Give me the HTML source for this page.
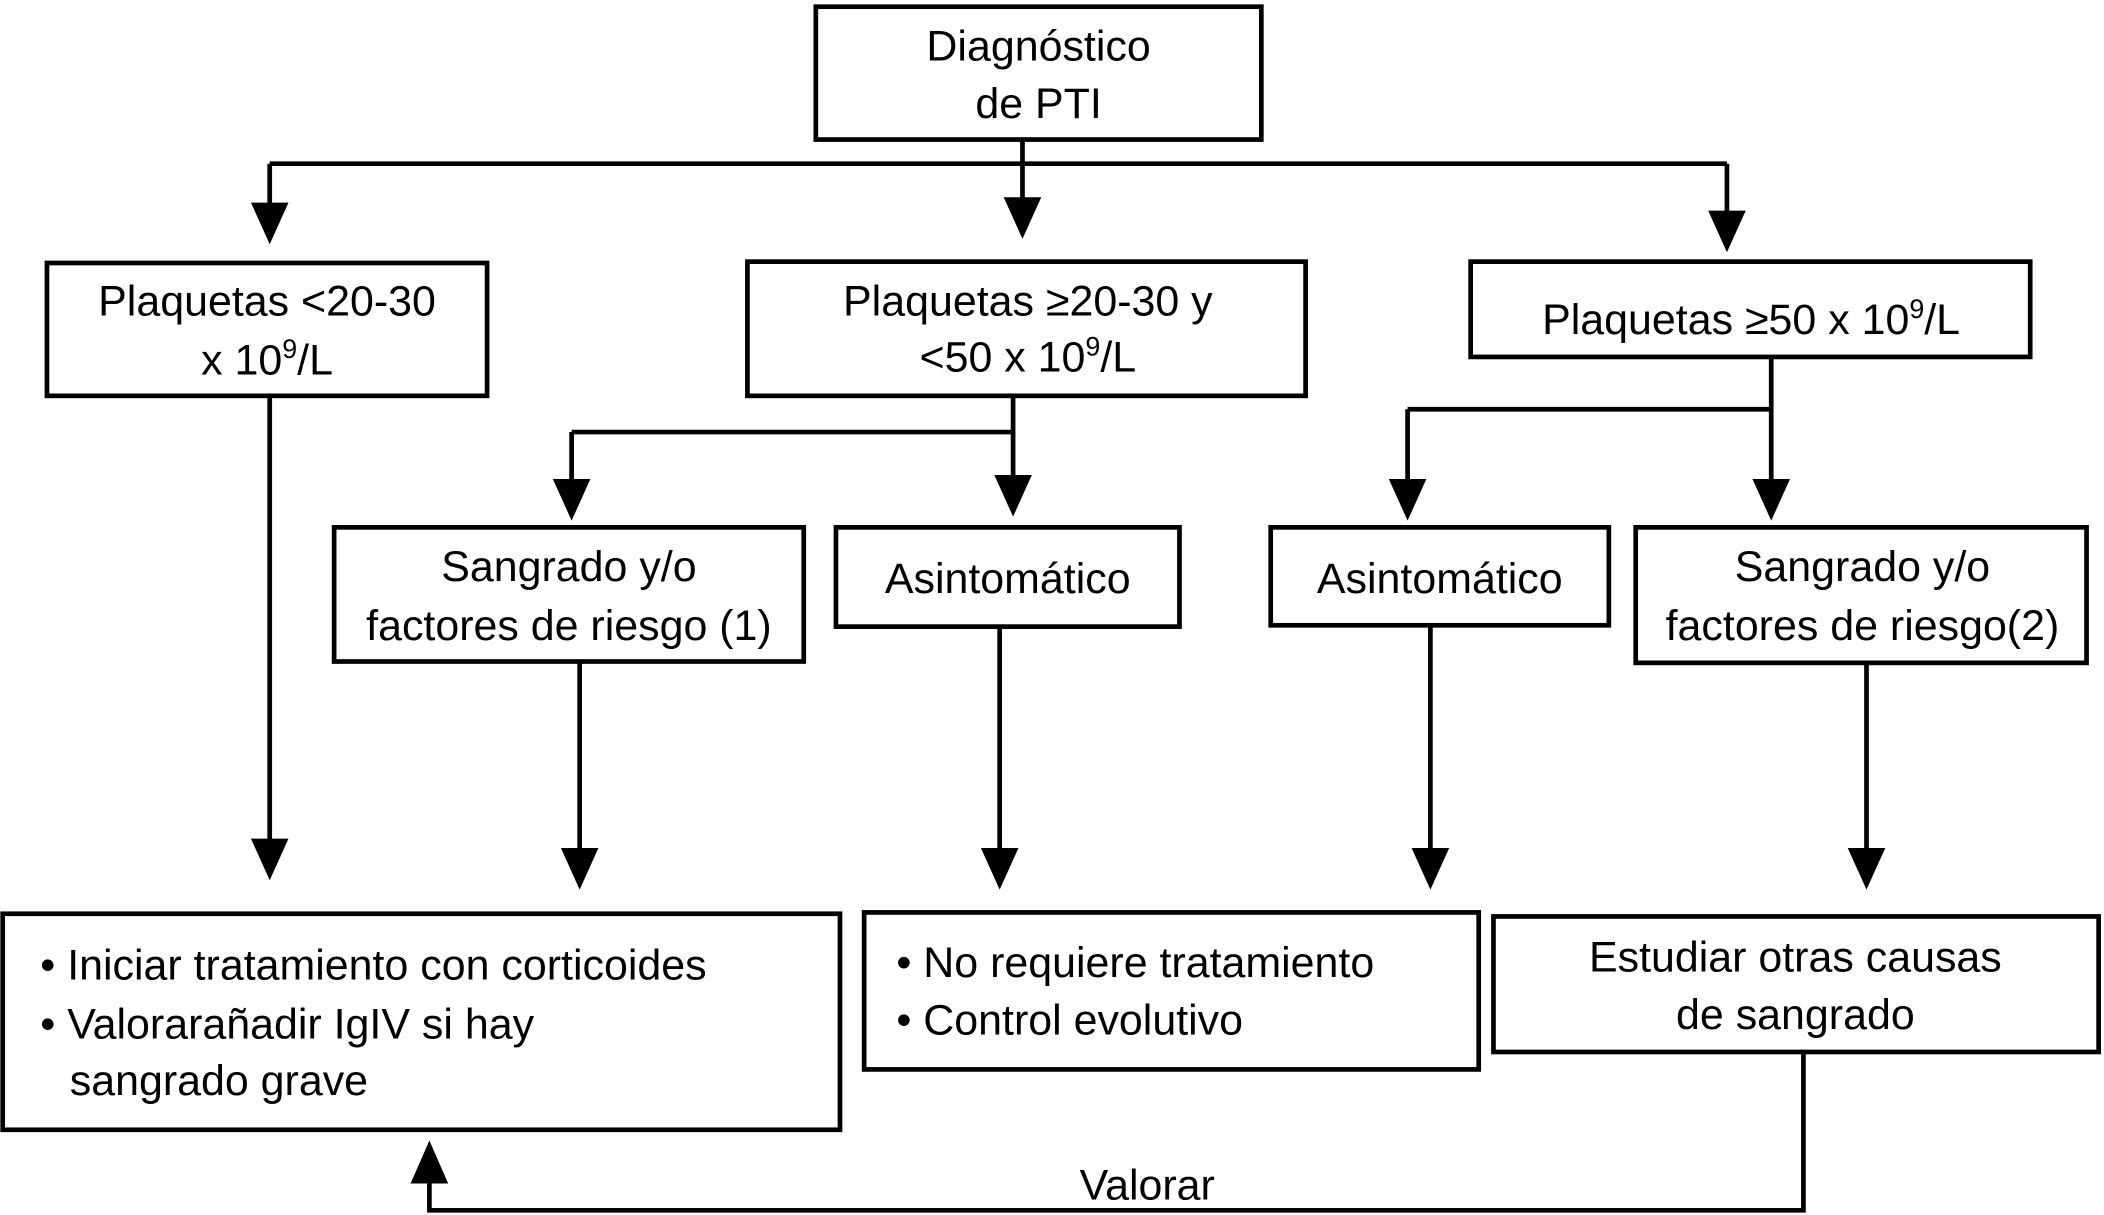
<!DOCTYPE html>
<html><head><meta charset="utf-8"><style>
html,body{margin:0;padding:0;background:#fff;}
svg{display:block;}
text{font-family:"Liberation Sans",Arial,sans-serif;font-size:32px;fill:#000;}
</style></head><body>
<svg width="2104" height="1215" viewBox="0 0 1568 905.5" preserveAspectRatio="none" xmlns="http://www.w3.org/2000/svg">
<defs>
<g id="ah"><polygon points="-14,-31 14,-31 0,0" fill="#000"/></g>
</defs>
<g fill="none" stroke="#000" stroke-width="3.5">
<rect x="608" y="5" width="332" height="99"/>
<rect x="35" y="196" width="328" height="99"/>
<rect x="557" y="195" width="416" height="100"/>
<rect x="1096" y="195" width="417" height="71"/>
<rect x="249" y="393" width="350" height="100"/>
<rect x="623" y="393" width="256" height="74"/>
<rect x="947" y="393" width="252" height="73"/>
<rect x="1219" y="393" width="336" height="101"/>
<rect x="2" y="681" width="624" height="161"/>
<rect x="644" y="680" width="458" height="117"/>
<rect x="1113" y="683" width="451" height="101"/>
<path d="M762 104V122M201 122H1287M201 122V160M762 122V156M1287 122V166"/>
<path d="M755 295V322M426 322H755M426 322V366M755 322V363"/>
<path d="M1320 266V305M1049 305H1320M1049 305V366M1320 305V366"/>
<path d="M201 295V630M432 493V640M745 467V640M1066 466V640M1391 494V640"/>
<path d="M1344 784V902H320V872"/>
</g>
<use href="#ah" x="201" y="182"/>
<use href="#ah" x="762" y="178"/>
<use href="#ah" x="1287" y="188"/>
<use href="#ah" x="426" y="388"/>
<use href="#ah" x="755" y="385"/>
<use href="#ah" x="1049" y="388"/>
<use href="#ah" x="1320" y="388"/>
<use href="#ah" x="201" y="656"/>
<use href="#ah" x="432" y="663"/>
<use href="#ah" x="745" y="663"/>
<use href="#ah" x="1066" y="663"/>
<use href="#ah" x="1391" y="663"/>
<polygon points="306,882 334,882 320,850" fill="#000"/>
<g text-anchor="middle">
<text x="774" y="45">Diagnóstico</text>
<text x="774" y="88">de PTI</text>
<text x="199" y="235">Plaquetas &lt;20-30</text>
<text x="199" y="279">x 10<tspan font-size="20" dy="-12">9</tspan><tspan dy="12">/L</tspan></text>
<text x="766" y="235">Plaquetas ≥20-30 y</text>
<text x="766" y="277">&lt;50 x 10<tspan font-size="20" dy="-12">9</tspan><tspan dy="12">/L</tspan></text>
<text x="1305" y="249">Plaquetas ≥50 x 10<tspan font-size="20" dy="-12">9</tspan><tspan dy="12">/L</tspan></text>
<text x="424" y="433">Sangrado y/o</text>
<text x="424" y="477">factores de riesgo (1)</text>
<text x="751" y="442">Asintomático</text>
<text x="1073" y="442">Asintomático</text>
<text x="1388" y="433">Sangrado y/o</text>
<text x="1388" y="477">factores de riesgo(2)</text>
<text x="1338" y="724">Estudiar otras causas</text>
<text x="1338" y="767">de sangrado</text>
<text x="855" y="894">Valorar</text>
</g>
<text x="30" y="730">• Iniciar tratamiento con corticoides</text>
<text x="30" y="774">• Valorarañadir IgIV si hay</text>
<text x="52" y="816">sangrado grave</text>
<text x="668" y="728">• No requiere tratamiento</text>
<text x="668" y="771">• Control evolutivo</text>
</svg>
</body></html>
